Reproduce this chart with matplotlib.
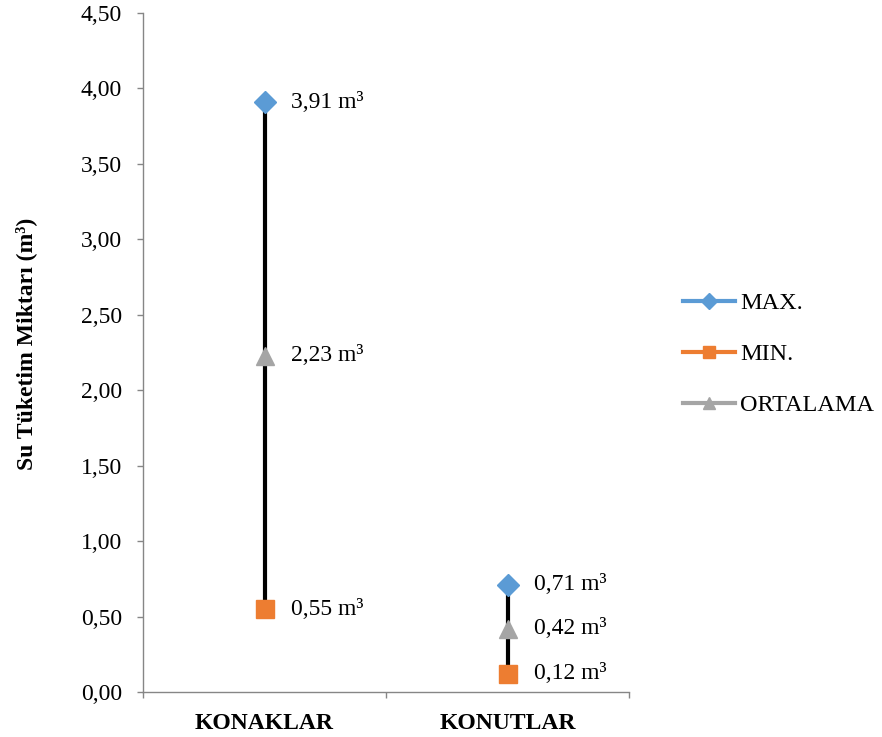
import matplotlib.pyplot as plt
from matplotlib.lines import Line2D

# Water consumption per building type (m³)
categories = ["KONAKLAR", "KONUTLAR"]
max_vals = [3.91, 0.71]
min_vals = [0.55, 0.12]
avg_vals = [2.23, 0.42]

series_names = ["MAX.", "MIN.", "ORTALAMA"]

BLUE = "#5B9BD5"
ORANGE = "#ED7D31"
GRAY = "#A5A5A5"
AXIS = "#868686"
FS = 17

plt.rcParams["font.family"] = ["Liberation Serif", "DejaVu Serif"]


def fmt(v):
    return f"{v:.2f}".replace(".", ",")


fig = plt.figure(figsize=(8.82, 7.37), dpi=100)
ax = fig.add_axes([143 / 882, 1 - 692 / 737, (629 - 143) / 882, (692 - 13) / 737])

x = [i + 0.5 for i in range(len(categories))]

# high-low lines
ax.vlines(x, min_vals, max_vals, color="black", linewidth=3, zorder=2)

ax.plot(x, max_vals, linestyle="none", marker="D", markersize=11,
        color=BLUE, zorder=3)
ax.plot(x, min_vals, linestyle="none", marker="s", markersize=13,
        color=ORANGE, zorder=3)
ax.plot(x, avg_vals, linestyle="none", marker="^", markersize=13,
        color=GRAY, zorder=3)

# data labels
for xi, vals in zip(x, zip(max_vals, min_vals, avg_vals)):
    for v in vals:
        ax.annotate(fmt(v) + " m³", (xi, v), xytext=(19, 0),
                    textcoords="offset points", va="center", ha="left",
                    fontsize=FS)

ax.set_xlim(0, len(categories))
ax.set_ylim(0, 4.5)
ax.set_yticks([i * 0.5 for i in range(10)])
ax.set_yticklabels([fmt(i * 0.5) for i in range(10)], fontsize=FS)
ax.set_xticks(x)
ax.set_xticklabels(categories, fontsize=FS, fontweight="bold")
ax.set_xticks(range(len(categories) + 1), minor=True)
ax.tick_params(axis="x", which="major", length=0, pad=15)
ax.tick_params(axis="x", which="minor", length=4.3, color=AXIS, width=1)
ax.tick_params(axis="y", length=4.3, color=AXIS, width=1, pad=11)

for side in ["top", "right"]:
    ax.spines[side].set_visible(False)
for side in ["left", "bottom"]:
    ax.spines[side].set_color(AXIS)
    ax.spines[side].set_linewidth(1)

ax.set_ylabel("Su Tüketim Miktarı (m³)", fontsize=FS, fontweight="bold")
ax.yaxis.set_label_coords(-0.218, 0.512)

handles = [
    Line2D([], [], color=BLUE, linewidth=3, marker="D", markersize=8),
    Line2D([], [], color=ORANGE, linewidth=3, marker="s", markersize=9),
    Line2D([], [], color=GRAY, linewidth=3, marker="^", markersize=9),
]
fig.legend(handles, series_names, loc="upper left",
           bbox_to_anchor=(683 / 882, 1 - 292 / 737), frameon=False,
           fontsize=17.5, handlelength=2.15, handletextpad=0.2,
           labelspacing=1.2, borderaxespad=0, borderpad=0)

fig.savefig("out.png", dpi=100)
